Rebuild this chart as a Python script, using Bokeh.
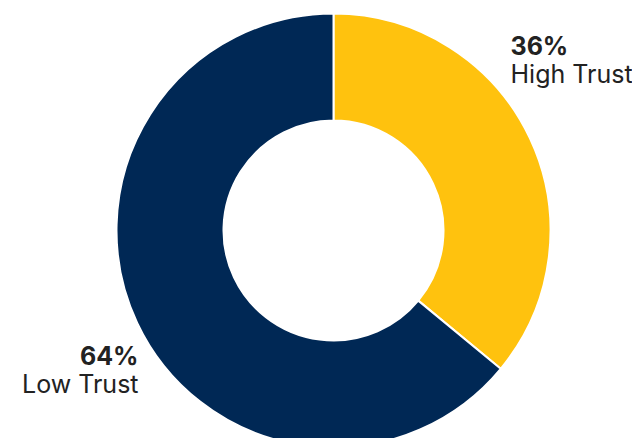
import numpy as np
from bokeh.plotting import figure
from bokeh.models import Range1d, ColumnDataSource
from bokeh.core.properties import value
from bokeh.embed import file_html
from bokeh.resources import INLINE

labels = ["High Trust", "Low Trust"]
values = [36, 64]
colors = ["#FFC20E", "#002855"]

W, H = 632, 438
p = figure(width=W, height=H, output_backend="svg", toolbar_location=None,
           x_range=Range1d(0, W), y_range=Range1d(0, H), min_border=0)
p.axis.visible = False
p.grid.visible = False
p.outline_line_color = None
p.background_fill_color = "white"

cx, cy = 333, 208
r_out, r_in = 217, 110

fr = np.array(values) / sum(values)
ends = np.pi / 2 - 2 * np.pi * np.cumsum(fr)
starts = np.concatenate([[np.pi / 2], ends[:-1]])
src = ColumnDataSource(dict(start=ends, end=starts, color=colors))
p.annular_wedge(x=cx, y=cy, inner_radius=r_in, outer_radius=r_out,
                start_angle="start", end_angle="end", fill_color="color",
                line_color="white", line_width=2, source=src)

font = value("Inter")
pct = [f"{v}%" for v in values]
fs = "25px"
p.text(x=[510], y=[393], text=[pct[0]], text_font=font, text_font_style="bold",
       text_font_size=fs, text_color="#222222", text_baseline="alphabetic", text_align="left")
p.text(x=[510], y=[365], text=[labels[0]], text_font=font,
       text_font_size=fs, text_color="#222222", text_baseline="alphabetic", text_align="left")
p.text(x=[138], y=[83], text=[pct[1]], text_font=font, text_font_style="bold",
       text_font_size=fs, text_color="#222222", text_baseline="alphabetic", text_align="right")
p.text(x=[138], y=[55], text=[labels[1]], text_font=font,
       text_font_size=fs, text_color="#222222", text_baseline="alphabetic", text_align="right")

open("out.html", "w").write(file_html(p, INLINE))
